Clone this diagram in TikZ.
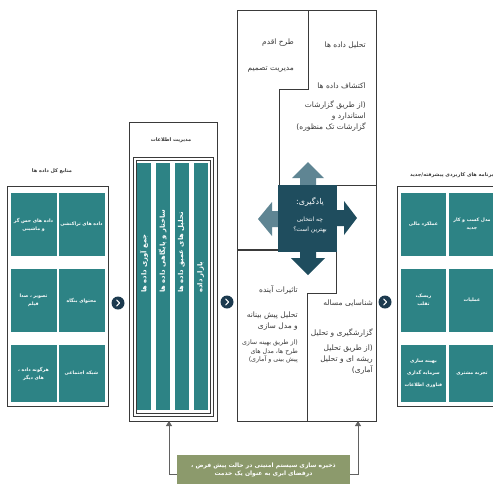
\documentclass[tikz,border=0pt]{standalone}
\usepackage{fontspec}
\usetikzlibrary{arrows.meta}
\newfontfamily\arabicfont[Script=Arabic]{DejaVu Sans}
\TeXXeTstate=1
\newcommand{\fa}[1]{{\arabicfont\beginR #1\endR}}
\definecolor{tealtile}{HTML}{2D8385}
\definecolor{navy}{HTML}{1F4D5E}
\definecolor{slate}{HTML}{5F8593}
\definecolor{chevblue}{HTML}{1C3A4F}
\definecolor{olive}{HTML}{8C9A6C}
\definecolor{ink}{HTML}{3A3A3A}

\begin{document}
\begin{tikzpicture}[x=1pt,y=-1pt,
 frame/.style={draw=ink,line width=0.9pt,inner sep=0pt},
 tilebox/.style={fill=tealtile,text=white,inner sep=0pt,align=center,font=\bfseries\fontsize{4.7}{8}\selectfont},
 colbox/.style={fill=tealtile,minimum width=14,minimum height=247,inner sep=0pt},
 coltext/.style={text=white,rotate=90,anchor=west,font=\bfseries\fontsize{6.8}{8}\selectfont,inner sep=0pt},
 heading/.style={text=ink,font=\bfseries\fontsize{5}{6}\selectfont,inner sep=0pt},
 body/.style={text=ink,font=\fontsize{7.5}{11}\selectfont,inner sep=0pt,align=right},
 small/.style={text=ink,font=\fontsize{6.3}{8.5}\selectfont,inner sep=0pt,align=right},
 chev/.style={circle,fill=chevblue,minimum size=13,inner sep=0pt},
 chevline/.style={white,line width=1.1pt,line cap=round,line join=round},
 feed/.style={draw=ink!80,line width=0.9pt,-{Triangle[width=6pt,length=5pt]}},
 ]
\useasboundingbox (0,0) rectangle (493,483);
\fill[white] (0,0) rectangle (493,483);

\node[heading] (srcT) at (52,171) {\fa{منابع کل داده ها}};
\node[frame,minimum width=101,minimum height=220] (src) at (57.5,296) {};
\node[tilebox,minimum width=46,minimum height=63] (s1) at (81.5,224.5) {\fa{داده های تراکنشی}};
\node[tilebox,minimum width=46,minimum height=63] (s2) at (33.5,224.5) {\fa{داده های حس گر}\\\fa{و ماشینی}};
\node[tilebox,minimum width=46,minimum height=63] (s3) at (81.5,300.5) {\fa{محتوای بنگاه}};
\node[tilebox,minimum width=46,minimum height=63] (s4) at (33.5,300.5) {\fa{تصویر ، صدا}\\\fa{فیلم}};
\node[tilebox,minimum width=46,minimum height=57] (s5) at (81.5,373.5) {\fa{شبکه اجتماعی}};
\node[tilebox,minimum width=46,minimum height=57] (s6) at (33.5,373.5) {\fa{هرگونه داده ،}\\\fa{های دیگر}};

\node[heading] (infoT) at (171,140) {\fa{مدیریت اطلاعات}};
\node[frame,minimum width=88,minimum height=299] (info) at (173,271.5) {};
\draw[frame] (133,157) rectangle (213,416);
\draw[frame,line width=0.6pt] (136,160) rectangle (210,413);
\node[colbox] (m1) at (144,286.5) {};
\node[colbox] (m2) at (162.5,286.5) {};
\node[colbox] (m3) at (181.5,286.5) {};
\node[colbox] (m4) at (200.5,286.5) {};
\node[coltext] (m1t) at (144,293) {\fa{جمع آوری داده ها}};
\node[coltext] (m2t) at (162.5,293) {\fa{ساختار و پایگاهی داده ها}};
\node[coltext] (m3t) at (181.5,293) {\fa{تحلیل های عمیق داده ها}};
\node[coltext] (m4t) at (200.5,293) {\fa{بازار داده}};

\node[frame,minimum width=139,minimum height=411] (anal) at (306.5,215.5) {};
\draw[frame,line width=0.8pt] (308,10) -- (308,89) -- (279,89) -- (279,185);
\draw[frame,line width=0.8pt] (337,185) -- (376,185);
\draw[frame,line width=1.6pt] (237,250) -- (278,250);
\draw[frame,line width=0.8pt] (336,252) -- (336,293) -- (307,293) -- (307,421);

\fill[slate] (300,185) -- (300,178) -- (292,178) -- (308,162) -- (324,178) -- (316,178) -- (316,185) -- cycle;
\fill[slate] (278,211) -- (272,211) -- (272,202) -- (258,219) -- (272,236) -- (272,227) -- (278,227) -- cycle;
\fill[navy] (337,210) -- (344,210) -- (344,201) -- (357,218) -- (344,235) -- (344,226) -- (337,226) -- cycle;
\fill[navy] (300,252) -- (300,258) -- (291,258) -- (308,275) -- (325,258) -- (316,258) -- (316,252) -- cycle;
\node[fill=navy,minimum width=59,minimum height=67,inner sep=0pt] (learn) at (307.5,218.5) {};
\node[text=white,font=\fontsize{8}{9}\selectfont,inner sep=0pt] (learnA) at (310,202) {\fa{یادگیری:}};
\node[text=white,font=\fontsize{6}{10}\selectfont,inner sep=0pt,align=center] (learnB) at (310,225) {\fa{چه انتخابی}\\\fa{بهترین است؟}};

\node[body,anchor=east] (act) at (294,43) {\fa{طرح اقدم}};
\node[body,anchor=east] (dec) at (294,70) {\fa{مدیریت تصمیم}};
\node[body,anchor=east] (ana) at (366,45) {\fa{تحلیل داده ها}};
\node[body,anchor=east] (exp) at (366,86) {\fa{اکتشاف داده ها}};
\node[body,anchor=north east] (expd) at (366,101) {\fa{(از طریق گزارشات}\\\fa{استاندارد و}\\\fa{گزارشات تک منظوره)}};

\node[body,anchor=east] (fut) at (298,290) {\fa{تاثیرات آینده}};
\node[body,anchor=north east] (pred) at (298,312) {\fa{تحلیل پیش بینانه}\\\fa{و مدل سازی}};
\node[small,anchor=north east] (predd) at (298,340) {\fa{(از طریق بهینه سازی}\\\fa{طرح ها، مدل های}\\\fa{پیش بینی و آماری)}};

\node[body,anchor=east] (prob) at (373,303) {\fa{شناسایی مساله}};
\node[body,anchor=east] (rep) at (373,333) {\fa{گزارشگیری و تحلیل}};
\node[body,anchor=north east] (repd) at (373,345) {\fa{(از طریق تحلیل}\\\fa{ریشه ای و تحلیل}\\\fa{آماری)}};

\node[heading,anchor=west] (appT) at (410,175) {\fa{برنامه های کاربردی پیشرفته/جدید}};
\node[frame,minimum width=110,minimum height=220] (app) at (452,296) {};
\node[tilebox,minimum width=46,minimum height=63] (a1) at (472,224.5) {\fa{مدل کسب و کار}\\\fa{جدید}};
\node[tilebox,minimum width=45,minimum height=63] (a2) at (423.5,224.5) {\fa{عملکرد مالی}};
\node[tilebox,minimum width=46,minimum height=63] (a3) at (472,300.5) {\fa{عملیات}};
\node[tilebox,minimum width=45,minimum height=63] (a4) at (423.5,300.5) {\fa{ریسک،}\\\fa{تقلب}};
\node[tilebox,minimum width=46,minimum height=57] (a5) at (472,373.5) {\fa{تجربه مشتری}};
\node[tilebox,minimum width=45,minimum height=57,font=\bfseries\fontsize{4.7}{12}\selectfont] (a6) at (423.5,373.5) {\fa{بهینه سازی}\\\fa{سرمایه گذاری}\\\fa{فناوری اطلاعات}};

\node[chev] (c1) at (118,303) {};
\node[chev] (c2) at (227,302) {};
\node[chev] (c3) at (385,302) {};
\draw[chevline] (c1) ++(-1.3,-3) -- ++(2.8,3) -- ++(-2.8,3);
\draw[chevline] (c2) ++(-1.3,-3) -- ++(2.8,3) -- ++(-2.8,3);
\draw[chevline] (c3) ++(-1.3,-3) -- ++(2.8,3) -- ++(-2.8,3);

\node[fill=olive,minimum width=173,minimum height=38,inner sep=0pt] (fb) at (263.5,474) {};
\node[text=white,align=center,font=\bfseries\fontsize{6}{8.5}\selectfont,inner sep=0pt] (fbt) at (263.5,470) {\fa{ذخیره سازی سیستم امنیتی در حالت پیش فرض ،}\\\fa{درفضای ابری به عنوان یک خدمت}};
\coordinate (inA) at (169,421);
\coordinate (inB) at (358,421);
\draw[feed] (fb.west) -| (inA);
\draw[feed] (fb.east) -| (inB);
\end{tikzpicture}
\end{document}
